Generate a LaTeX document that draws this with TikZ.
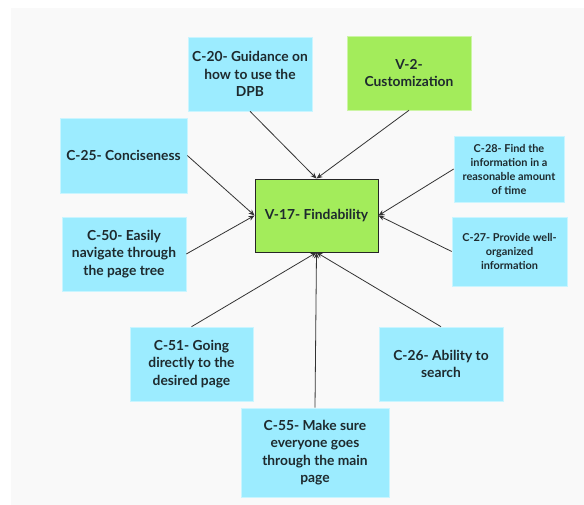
\documentclass[tikz,border=0pt]{standalone}
\usepackage{fontspec}
\setmainfont{Lato}
\usetikzlibrary{arrows.meta}

\definecolor{canvas}{HTML}{F9F9F9}
\definecolor{cyanbox}{HTML}{9CECFF}
\definecolor{greenbox}{HTML}{A3EC5B}
\definecolor{ink}{HTML}{1E2A2E}
\definecolor{wire}{HTML}{333333}

\tikzset{
  card/.style={fill=cyanbox, draw=cyanbox!55!white, line width=0.6pt,
    inner sep=2pt, align=center, text=ink,
    font=\fontsize{13.8}{17.5}\selectfont\bfseries},
  smallcard/.style={card, font=\fontsize{10.9}{14}\selectfont\bfseries},
  goal/.style={card, fill=greenbox, draw=greenbox!55!white},
  hub/.style={card, fill=greenbox, draw=black!85, line width=0.9pt},
  link/.style={draw=wire, line width=0.8pt, -{Stealth[length=6pt,width=5pt]}}
}

\begin{document}
\begin{tikzpicture}[x=1pt,y=-1pt]
  \useasboundingbox (0,0) rectangle (584,505);
  \fill[canvas] (11,8) rectangle (584,505);

  % central value
  \node[hub, minimum width=123pt, minimum height=73pt] (v17) at (316.5,215.5) {V-17- Findability};

  % surrounding items
  \node[card, minimum width=124pt, minimum height=74pt] (c20) at (250,74)
    {C-20- Guidance on\\how to use the\\DPB};
  \node[goal, minimum width=124pt, minimum height=74pt] (v2) at (409,73)
    {V-2-\\Customization};
  \node[card, minimum width=127pt, minimum height=75pt] (c25) at (123.5,155.5)
    {C-25- Conciseness};
  \node[card, minimum width=124pt, minimum height=74pt] (c50) at (124,254)
    {C-50- Easily\\navigate through\\the page tree};
  \node[smallcard, minimum width=110pt, minimum height=66pt] (c28) at (509,169)
    {C-28- Find the\\information in a\\reasonable amount\\of time};
  \node[smallcard, minimum width=115pt, minimum height=69pt] (c27) at (509.5,251.5)
    {C-27- Provide well-\\organized\\information};
  \node[card, minimum width=123pt, minimum height=74pt] (c51) at (191.5,364)
    {C-51- Going\\directly to the\\desired page};
  \node[card, minimum width=124pt, minimum height=74pt] (c26) at (441,364)
    {C-26- Ability to\\search};
  \node[card, minimum width=148pt, minimum height=89pt] (c55) at (315,452.5)
    {C-55- Make sure\\everyone goes\\through the main\\page};

  % connectors into the hub
  \draw[link] (c20.south) -- (v17.north);
  \draw[link] (v2.south) -- (v17.north);
  \draw[link] (c25.east) -- (v17.west);
  \draw[link] (c50.east) -- (v17.west);
  \draw[link] (c28.west) -- (v17.east);
  \draw[link] (c27.west) -- (v17.east);
  \draw[link] (c51.north) -- (v17.south);
  \draw[link] (c55.north) -- (v17.south);
  \draw[link] (c26.north) -- (v17.south);
\end{tikzpicture}
\end{document}
